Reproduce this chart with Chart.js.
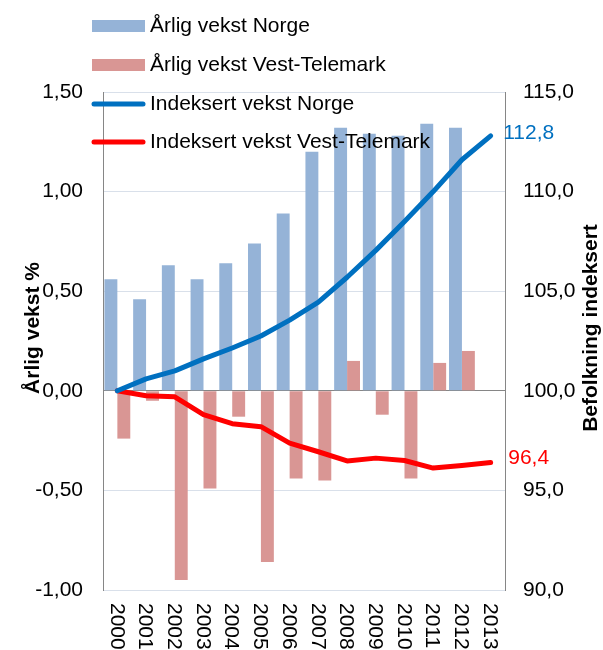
<!DOCTYPE html>
<html>
<head>
<meta charset="utf-8">
<title>Befolkningsvekst Norge og Vest-Telemark</title>
<script src="https://cdn.jsdelivr.net/npm/chart.js@4.4.1/dist/chart.umd.min.js"></script>
<style>
    html, body { margin: 0; padding: 0; background: #fff; }
    canvas { display: block; }
</style>
</head>
<body>
<canvas id="growthChart" width="603" height="650"></canvas>
<script>
// Data
const years = ['2000', '2001', '2002', '2003', '2004', '2005', '2006', '2007', '2008', '2009', '2010', '2011', '2012', '2013'];
const growthNorway = [0.56, 0.46, 0.63, 0.56, 0.64, 0.74, 0.89, 1.20, 1.32, 1.29, 1.28, 1.34, 1.32, null];
const growthVT = [-0.24, -0.05, -0.95, -0.49, -0.13, -0.86, -0.44, -0.45, 0.15, -0.12, -0.44, 0.14, 0.20, null];
const indexNorway = [100, 100.6, 101.0, 101.6, 102.15, 102.75, 103.55, 104.45, 105.7, 107.05, 108.5, 110.0, 111.6, 112.8];
const indexVT = [100, 99.75, 99.7, 98.8, 98.35, 98.2, 97.37, 96.94, 96.48, 96.62, 96.5, 96.12, 96.25, 96.4];

const leftTicks = [-1, -0.5, 0, 0.5, 1, 1.5];
const rightTicks = [90, 95, 100, 105, 110, 115];

// Colors
const colors = {
    barNorway: '#95B3D7',
    barVT: '#D99694',
    lineNorway: '#0070C0',
    lineVT: '#FF0000',
    grid: '#D9E0EA',
    axis: '#868686',
    text: '#000000'
};

const fontFamily = "'Liberation Sans', Arial, sans-serif";
const comma = (v, d) => v.toFixed(d).replace('.', ',');

// Axis titles, rotated year labels, legend and end labels
const extrasPlugin = {
    id: 'extras',
    afterDraw(chart) {
        const ctx = chart.ctx;
        const x = chart.scales.x;
        ctx.save();

        // Year labels, reading top to bottom
        ctx.font = `21px ${fontFamily}`;
        ctx.fillStyle = colors.text;
        ctx.textAlign = 'left';
        ctx.textBaseline = 'middle';
        years.forEach((year, i) => {
            ctx.save();
            ctx.translate(x.getPixelForValue(i) - 1, 603);
            ctx.rotate(Math.PI / 2);
            ctx.fillText(year, 0, 0);
            ctx.restore();
        });

        // Axis titles
        ctx.font = `bold 21px ${fontFamily}`;
        ctx.textAlign = 'center';
        [['Årlig vekst %', 33], ['Befolkning indeksert', 591]].forEach(([label, tx]) => {
            ctx.save();
            ctx.translate(tx, 328);
            ctx.rotate(-Math.PI / 2);
            ctx.fillText(label, 0, 0);
            ctx.restore();
        });

        // End-of-line value labels
        ctx.font = `21px ${fontFamily}`;
        [[2, -3], [3, -4]].forEach(([dsIndex, dy]) => {
            const meta = chart.getDatasetMeta(dsIndex);
            const data = chart.data.datasets[dsIndex].data;
            const last = data.length - 1;
            const pt = meta.data[last];
            ctx.fillStyle = chart.data.datasets[dsIndex].borderColor;
            ctx.fillText(comma(data[last], 1), pt.x + 38, pt.y + dy);
        });

        // Legend
        const rowY = [26, 65, 104, 142];
        chart.data.datasets.forEach((ds, i) => {
            const y = rowY[i];
            if (ds.type === 'bar') {
                ctx.fillStyle = ds.backgroundColor;
                ctx.fillRect(92, y - 6, 53, 12);
            } else {
                ctx.strokeStyle = ds.borderColor;
                ctx.lineWidth = 5;
                ctx.lineCap = 'round';
                ctx.beginPath();
                ctx.moveTo(94, y);
                ctx.lineTo(143, y);
                ctx.stroke();
            }
            ctx.fillStyle = colors.text;
            ctx.textAlign = 'left';
            ctx.fillText(ds.label, 150, y);
        });

        ctx.restore();
    }
};

const ctx = document.getElementById('growthChart').getContext('2d');
const growthChart = new Chart(ctx, {
    data: {
        labels: years,
        datasets: [
            {
                type: 'bar',
                label: 'Årlig vekst Norge',
                data: growthNorway,
                backgroundColor: colors.barNorway,
                yAxisID: 'y',
                order: 2,
                categoryPercentage: 0.9,
                barPercentage: 1.0
            },
            {
                type: 'bar',
                label: 'Årlig vekst Vest-Telemark',
                data: growthVT,
                backgroundColor: colors.barVT,
                yAxisID: 'y',
                order: 2,
                categoryPercentage: 0.9,
                barPercentage: 1.0
            },
            {
                type: 'line',
                label: 'Indeksert vekst Norge',
                data: indexNorway,
                borderColor: colors.lineNorway,
                borderWidth: 5,
                pointRadius: 0,
                tension: 0,
                borderCapStyle: 'round',
                borderJoinStyle: 'round',
                yAxisID: 'y1',
                order: 1
            },
            {
                type: 'line',
                label: 'Indeksert vekst Vest-Telemark',
                data: indexVT,
                borderColor: colors.lineVT,
                borderWidth: 5,
                pointRadius: 0,
                tension: 0,
                borderCapStyle: 'round',
                borderJoinStyle: 'round',
                yAxisID: 'y1',
                order: 1
            }
        ]
    },
    options: {
        responsive: false,
        animation: false,
        devicePixelRatio: 1,
        layout: {
            padding: { top: 92, left: 0, right: 0, bottom: 0 }
        },
        plugins: {
            legend: { display: false },
            tooltip: { enabled: false }
        },
        scales: {
            x: {
                offset: true,
                grid: { display: false },
                border: { color: colors.grid },
                ticks: { display: false },
                afterFit(scale) { scale.height = 60; }
            },
            y: {
                position: 'left',
                min: -1,
                max: 1.5,
                afterBuildTicks(scale) {
                    scale.ticks = leftTicks.map(v => ({ value: v }));
                },
                afterFit(scale) { scale.width = 103; },
                border: { color: colors.axis, width: 1 },
                grid: {
                    drawTicks: false,
                    color: c => (c.tick && c.tick.value === 0 ? colors.axis : colors.grid),
                    lineWidth: 1
                },
                ticks: {
                    padding: 20,
                    color: colors.text,
                    font: { family: fontFamily, size: 21 },
                    callback: v => comma(v, 2)
                }
            },
            y1: {
                position: 'right',
                min: 90,
                max: 115,
                afterBuildTicks(scale) {
                    scale.ticks = rightTicks.map(v => ({ value: v }));
                },
                afterFit(scale) { scale.width = 98; },
                border: { color: colors.axis, width: 1 },
                grid: { drawOnChartArea: false, drawTicks: false },
                ticks: {
                    padding: 18,
                    color: colors.text,
                    font: { family: fontFamily, size: 21 },
                    callback: v => comma(v, 1)
                }
            }
        }
    },
    plugins: [extrasPlugin]
});
</script>
</body>
</html>
